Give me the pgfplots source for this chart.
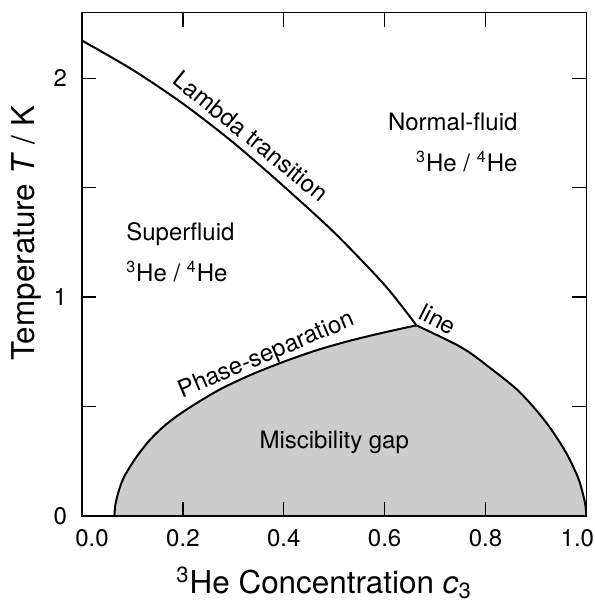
\documentclass[border=0pt]{standalone}
\usepackage{fontspec}
\setmainfont{TeX Gyre Heros}
\usepackage{pgfplots}
\pgfplotsset{compat=1.18}

% lambda line, T vs c3
\newcommand{\lambdaline}{(0,2.172) (0.1,2.039) (0.2,1.884) (0.3,1.706) (0.4,1.506) (0.5,1.295) (0.6,1.055) (0.663,0.871)}
% phase-separation line, left and right branch
\newcommand{\gapleft}{(0.064,0) (0.066,0.05) (0.071,0.10) (0.078,0.15) (0.087,0.194) (0.108,0.27) (0.134,0.346) (0.165,0.415) (0.205,0.483) (0.27,0.574) (0.333,0.643) (0.399,0.704) (0.465,0.757) (0.53,0.80) (0.598,0.838) (0.663,0.871)}
\newcommand{\gapright}{(0.663,0.871) (0.731,0.796) (0.765,0.752) (0.798,0.696) (0.864,0.574) (0.917,0.437) (0.957,0.300) (0.983,0.178) (0.993,0.102) (0.998,0.05) (1.0,0)}

\begin{document}
\begin{tikzpicture}
\begin{axis}[
    scale only axis,
    width=252pt, height=251.5pt,
    xmin=0, xmax=1, ymin=0, ymax=2.3,
    axis on top,
    axis line style={line width=0.7pt},
    tick style={line width=0.7pt, black},
    tick align=inside,
    major tick length=7pt,
    xtick={0,0.2,0.4,0.6,0.8,1},
    xticklabels={\kern10pt 0.0,0.2,0.4,0.6,0.8,1.0\kern9pt},
    ytick={0,0.5,1,1.5,2},
    yticklabels={0,,1,,2},
    ticklabel style={font=\fontsize{12}{14}\selectfont},
    xticklabel style={anchor=base, yshift=-15.5pt},
    yticklabel style={anchor=east, inner sep=0pt, xshift=-7.3pt},
    label style={font=\fontsize{15.7}{18}\selectfont},
    xlabel={\textsuperscript{3}He Concentration \textit{c}\textsubscript{3}},
    ylabel={Temperature \textit{T} / K},
    xlabel style={at={(axis description cs:0.48,-0.1531)}, anchor=base},
    ylabel style={at={(axis description cs:-0.0933,0.562)}, anchor=base},
]
\addplot[draw=none, fill=gray!40] coordinates {\gapleft \gapright} \closedcycle;
\addplot[black, line width=1pt, smooth] coordinates {\gapleft};
\addplot[black, line width=1pt, smooth] coordinates {\gapright};
\addplot[black, line width=1pt, smooth] coordinates {\lambdaline};

\node[rotate=-39, font=\fontsize{12}{14}\selectfont] at (axis cs:0.335,1.735) {Lambda transition};
\node[rotate=23, font=\fontsize{12}{14}\selectfont] at (axis cs:0.366,0.732) {Phase-separation};
\node[rotate=-27, font=\fontsize{12}{14}\selectfont] at (axis cs:0.706,0.899) {line};
\node[font=\fontsize{12}{14}\selectfont] at (axis cs:0.5,0.338) {Miscibility gap};
\node[align=left, font=\fontsize{12}{20.5}\selectfont] at (axis cs:0.195,1.204) {Superfluid\\\textsuperscript{3}He / \textsuperscript{4}He};
\node[align=right, font=\fontsize{12}{20.5}\selectfont] at (axis cs:0.735,1.708) {Normal-fluid\\\textsuperscript{3}He / \textsuperscript{4}He};
\end{axis}
\pgfresetboundingbox
\path ([xshift=-41pt,yshift=-43pt]current axis.south west) rectangle ([xshift=4.2pt,yshift=6.3pt]current axis.north east);
\end{tikzpicture}
\end{document}
